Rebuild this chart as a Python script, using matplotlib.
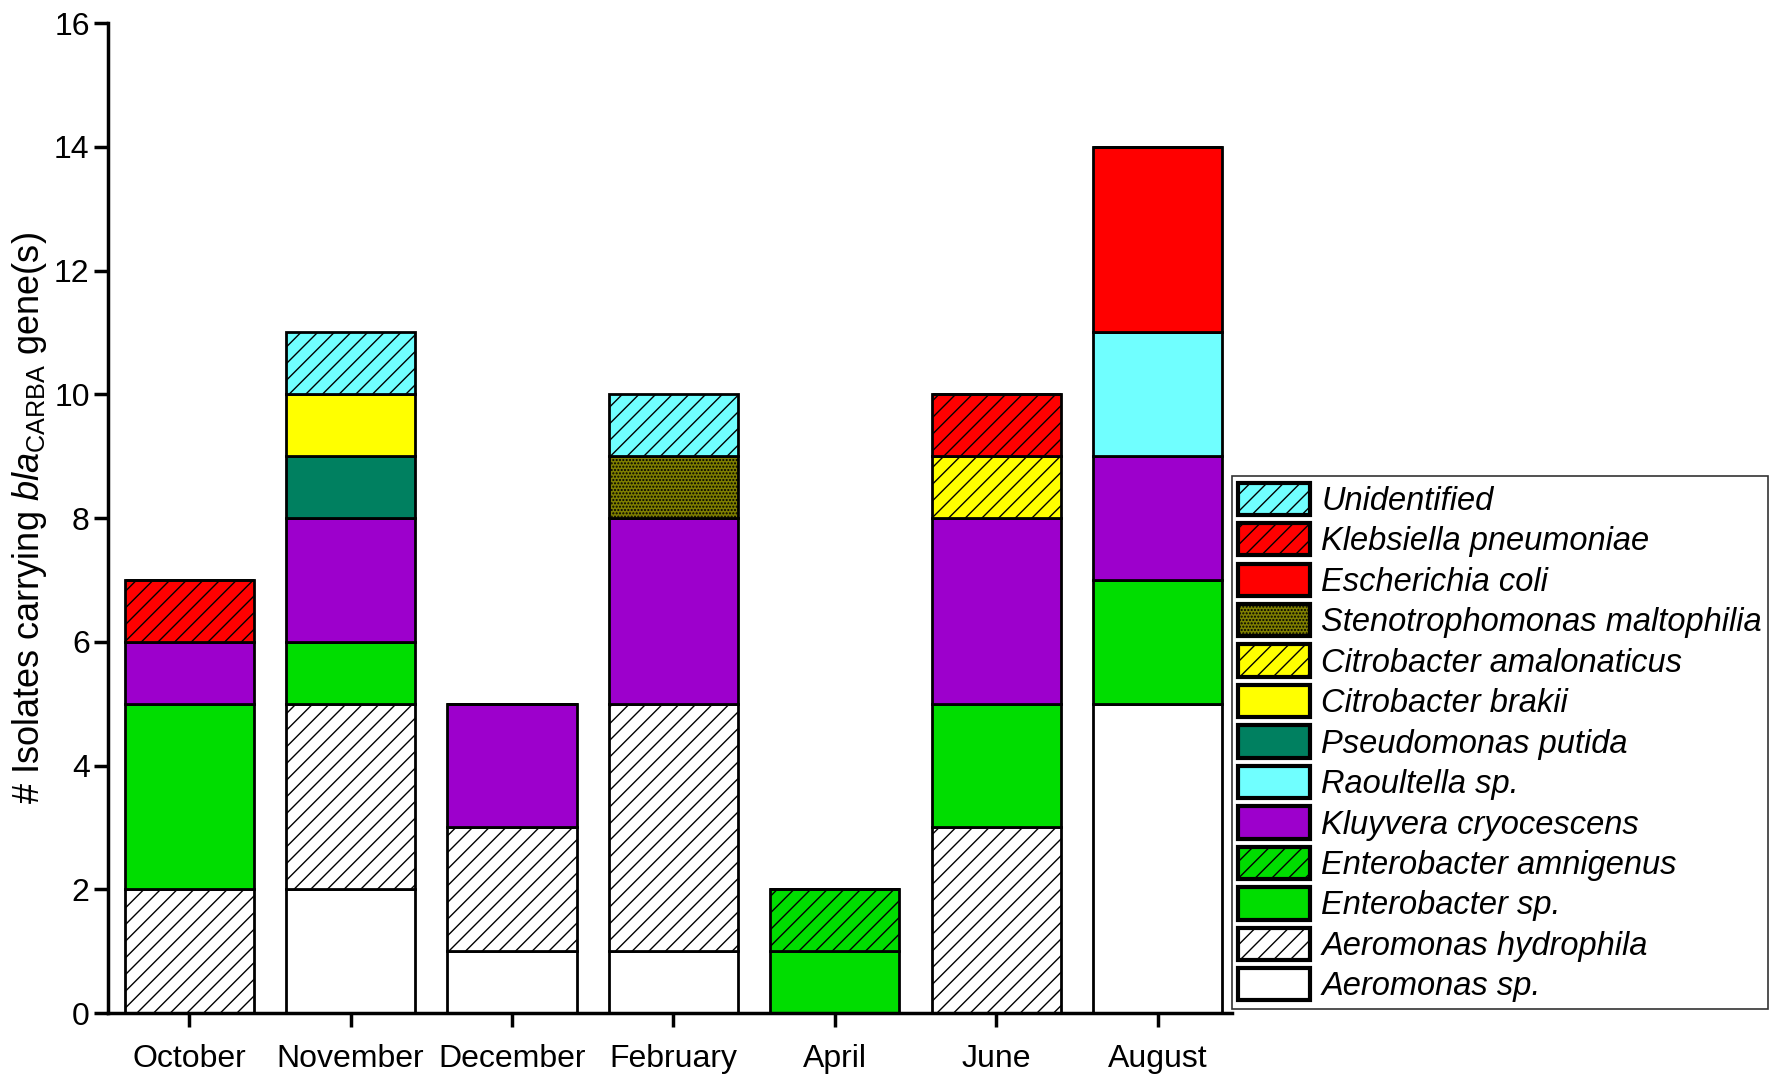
import numpy as np
import matplotlib
matplotlib.use("Agg")
from matplotlib import pyplot as plt
from matplotlib import font_manager as fm

months = ['October', 'November', 'December', 'February', 'April', 'June', 'August']

# stacked bottom -> top
species = ['Aeromonas sp.', 'Aeromonas hydrophila', 'Enterobacter sp.',
           'Enterobacter amnigenus', 'Kluyvera cryocescens', 'Raoultella sp.',
           'Pseudomonas putida', 'Citrobacter brakii', 'Citrobacter amalonaticus',
           'Stenotrophomonas maltophilia', 'Escherichia coli',
           'Klebsiella pneumoniae', 'Unidentified']

aeromonas_sp = [0, 2, 1, 1, 0, 0, 5]
aeromonas_hydrophila = [2, 3, 2, 4, 0, 3, 0]
enterobacter_sp = [3, 1, 0, 0, 1, 2, 2]
enterobacter_amnigenus = [0, 0, 0, 0, 1, 0, 0]
kluyvera = [1, 2, 2, 3, 0, 3, 2]
raoultella = [0, 0, 0, 0, 0, 0, 2]
pseudomonas = [0, 1, 0, 0, 0, 0, 0]
citro_brakii = [0, 1, 0, 0, 0, 0, 0]
citro_amalonaticus = [0, 0, 0, 0, 0, 1, 0]
stenotrophomonas = [0, 0, 0, 1, 0, 0, 0]
ecoli = [0, 0, 0, 0, 0, 0, 3]
klebsiella = [1, 0, 0, 0, 0, 1, 0]
unidentified = [0, 1, 0, 1, 0, 0, 0]

counts = [aeromonas_sp, aeromonas_hydrophila, enterobacter_sp, enterobacter_amnigenus,
          kluyvera, raoultella, pseudomonas, citro_brakii, citro_amalonaticus,
          stenotrophomonas, ecoli, klebsiella, unidentified]

colors = ['white', 'white', '#00dd00', '#00dd00', '#9d00cc', '#70ffff',
          '#008060', '#ffff00', '#ffff00', '#7f7f00', '#ff0000', '#ff0000', '#70ffff']
hatches = [None, '//', None, '//', None, None, None, None, '//', '.....', None, '//', '//']

names = {f.name for f in fm.fontManager.ttflist}
base = 'Liberation Sans' if 'Liberation Sans' in names else 'DejaVu Sans'
narrow = 'Liberation Sans Narrow' if 'Liberation Sans Narrow' in names else base

plt.rcParams['font.family'] = [base, 'DejaVu Sans']
plt.rcParams['mathtext.fontset'] = 'custom'
plt.rcParams['mathtext.rm'] = narrow
plt.rcParams['mathtext.it'] = narrow + ':italic'
plt.rcParams['hatch.linewidth'] = 1.0

fig = plt.figure(figsize=(17.72, 10.82), dpi=100)
ax = fig.add_axes([0.0612, 0.0637, 0.634, 0.915])

x = np.arange(len(months))
bottom = np.zeros(len(months))
handles = []
for name, vals, c, h in zip(species, counts, colors, hatches):
    vals = np.array(vals, dtype=float)
    bars = ax.bar(x, vals, 0.8, bottom=bottom, color=c, hatch=h,
                  edgecolor='black', linewidth=2, label=name)
    handles.append(bars)
    bottom += vals

ax.set_xlim(-0.5, 6.46)
ax.set_ylim(0, 16)
ax.set_yticks(np.arange(0, 17, 2))
ax.set_xticks(x)
ax.set_xticklabels(months, family=narrow, fontsize=23)
ax.tick_params(axis='y', labelsize=23, width=2.5, length=10, direction='out')
ax.tick_params(axis='x', width=2.5, length=10, direction='out', pad=12)
for s in ['top', 'right']:
    ax.spines[s].set_visible(False)
for s in ['left', 'bottom']:
    ax.spines[s].set_linewidth(2.5)

ax.set_ylabel(r'# Isolates carrying $\mathit{bla}_{\mathrm{CARBA}}$ gene(s)',
              family=narrow, fontsize=26)

leg = fig.legend(handles[::-1], species[::-1], loc='upper left',
                 bbox_to_anchor=(0.695, 0.56), borderaxespad=0,
                 prop={'family': base, 'style': 'italic', 'size': 23.5},
                 frameon=True, fancybox=False, edgecolor='black',
                 handlelength=2.2, handleheight=1.15, labelspacing=0.19,
                 handletextpad=0.35, borderpad=0.2)
leg.get_frame().set_linewidth(1.2)
for p in leg.get_patches():
    p.set_linewidth(3)

fig.savefig('out.png', dpi=100)
